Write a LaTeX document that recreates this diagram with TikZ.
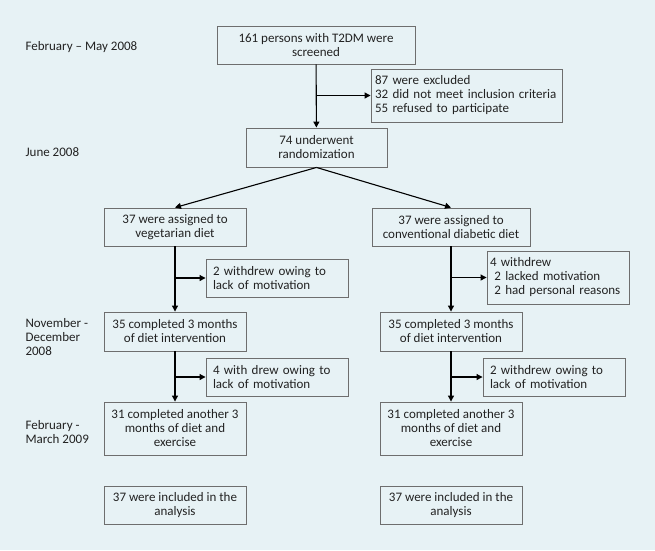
\documentclass[tikz,border=0pt]{standalone}
\usepackage{fontspec}
\setmainfont{Carlito}
\usetikzlibrary{arrows.meta,calc}
\definecolor{bgblue}{HTML}{E7F2F5}
\definecolor{boxgray}{HTML}{6E6E6E}
\definecolor{txtgray}{HTML}{222222}
\begin{document}
\begin{tikzpicture}[x=1pt,y=-1pt,
                    stage/.style={shape=rectangle,draw=boxgray,line width=0.9pt,inner sep=0pt,align=center,text=txtgray,font=\fontsize{13}{14}\selectfont},
                    side/.style={stage,align=left},
                    datelabel/.style={anchor=west,align=left,text=txtgray,font=\fontsize{13}{14}\selectfont},
                    flow/.style={draw=black,line width=1.1pt,-{Triangle[length=6pt,width=6pt]}}
                    ]
                    \fill [bgblue] (0,0) rectangle (655,550);
                    \useasboundingbox (0,0) rectangle (655,550);
                    %Screening
                    \node [datelabel] (t1) at (22,47) {February -- May 2008};
                    \node [stage,minimum width=198pt,minimum height=38pt] (screened) at (316,45) {161 persons with T2DM were\\screened};
                    \node [side,minimum width=191pt,minimum height=53pt,text width=183pt] (excluded) at (466.5,95.5) {87 were excluded\\32 did not meet inclusion criteria\\55 refused to participate};
                    %Randomisierung
                    \node [datelabel] (t2) at (22,152) {June 2008};
                    \node [stage,minimum width=141pt,minimum height=39pt] (random) at (316.5,147.5) {74 underwent\\randomization};
                    \node [stage,minimum width=142pt,minimum height=38pt] (vegL) at (175,227) {37 were assigned to\\vegetarian diet};
                    \node [stage,minimum width=158pt,minimum height=38pt] (convR) at (451,227) {37 were assigned to\\conventional diabetic diet};
                    %nach 3 Monaten
                    \node [side,minimum width=142pt,minimum height=38pt,text width=128pt] (wdL1) at (277,278) {2 withdrew owing to\\lack of motivation};
                    \node [side,minimum width=142pt,minimum height=53pt,text width=136pt] (wdR1) at (558,277.5) {4 withdrew\\\ 2 lacked motivation\\\ 2 had personal reasons};
                    \node [datelabel] (t3) at (22,337) {November -\\December\\2008};
                    \node [stage,minimum width=142pt,minimum height=39pt] (compL1) at (175,331.5) {35 completed 3 months\\of diet intervention};
                    \node [stage,minimum width=142pt,minimum height=39pt] (compR1) at (451,331.5) {35 completed 3 months\\of diet intervention};
                    %nach 6 Monaten
                    \node [side,minimum width=142pt,minimum height=38pt,text width=128pt] (wdL2) at (277,377) {4 with drew owing to\\lack of motivation};
                    \node [side,minimum width=142pt,minimum height=38pt,text width=128pt] (wdR2) at (554,377) {2 withdrew owing to\\lack of motivation};
                    \node [datelabel] (t4) at (22,432) {February -\\March 2009};
                    \node [stage,minimum width=142pt,minimum height=53pt] (compL2) at (175,428.5) {31 completed another 3\\months of diet and\\exercise};
                    \node [stage,minimum width=142pt,minimum height=53pt] (compR2) at (451,428.5) {31 completed another 3\\months of diet and\\exercise};
                    %Analyse
                    \node [stage,minimum width=142pt,minimum height=38pt] (inclL) at (175,505) {37 were included in the\\analysis};
                    \node [stage,minimum width=142pt,minimum height=38pt] (inclR) at (451,505) {37 were included in the\\analysis};
                    %Pfeile
                    \draw [flow] (screened) -- (random);
                    \coordinate (b0) at (screened.south |- excluded.west);
                    \draw [flow] (b0) -- (excluded.west);
                    \draw [flow] (random.south) -- (vegL.north);
                    \draw [flow] (random.south) -- (convR.north);
                    \draw [flow] (vegL) -- (compL1);
                    \coordinate (bL1) at (vegL.south |- wdL1.west);
                    \draw [flow] (bL1) -- (wdL1.west);
                    \draw [flow] (convR) -- (compR1);
                    \coordinate (bR1) at (convR.south |- wdR1.west);
                    \draw [flow] (bR1) -- (wdR1.west);
                    \draw [flow] (compL1) -- (compL2);
                    \coordinate (bL2) at (compL1.south |- wdL2.west);
                    \draw [flow] (bL2) -- (wdL2.west);
                    \draw [flow] (compR1) -- (compR2);
                    \coordinate (bR2) at (compR1.south |- wdR2.west);
                    \draw [flow] (bR2) -- (wdR2.west);
\end{tikzpicture}
\end{document}
